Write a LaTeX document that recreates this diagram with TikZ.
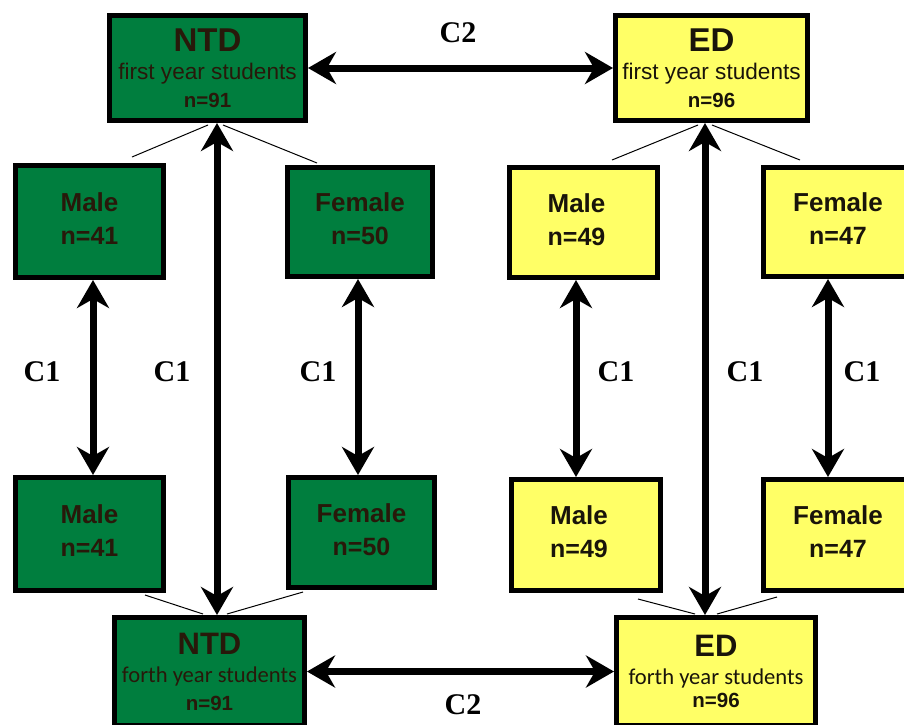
\documentclass[tikz,border=0pt]{standalone}
\usepackage{fontspec}
\setmainfont{Liberation Sans}
\newfontfamily\carlitof{Carlito}
\newfontfamily\timesf{Liberation Serif}
\usetikzlibrary{arrows.meta}
\definecolor{ntdgreen}{RGB}{0,126,62}
\definecolor{edyellow}{RGB}{255,255,102}
\definecolor{gtext}{RGB}{40,25,10}
\definecolor{ytext}{RGB}{25,20,10}
\tikzset{
  box/.style={draw=black, line width=5pt, align=center, inner sep=0pt},
  gbox/.style={box, fill=ntdgreen, text=gtext},
  ybox/.style={box, fill=edyellow, text=ytext},
  bigbox/.style={font=\fontsize{20}{28}\selectfont},
  smallbox/.style={font=\fontsize{25}{33}\selectfont\bfseries},
  dbl/.style={line width=7pt, {Stealth[length=28pt,width=32pt,inset=9pt]}-{Stealth[length=28pt,width=32pt,inset=9pt]}},
  thinline/.style={line width=1pt, draw=black},
  clab/.style={font=\timesf\bfseries\fontsize{30}{30}\selectfont, text=black, inner sep=0pt}
}
\newcommand{\ttl}[1]{{\fontsize{33}{28}\selectfont\bfseries #1}}
\newcommand{\ttlb}[1]{{\fontsize{31}{28}\selectfont\bfseries #1}}
\newcommand{\fys}{{\fontsize{22.6}{28}\selectfont first year students}}
\newcommand{\fos}{{\carlitof\fontsize{22.6}{28}\selectfont forth year students}}
\newcommand{\nn}[1]{{\fontsize{20.5}{28}\selectfont\bfseries #1}}
\newcommand{\sx}[1]{{\fontsize{26}{33}\selectfont\bfseries #1}}
\newcommand{\lowstrut}{\rule[-6pt]{0pt}{6pt}}
\begin{document}
\begin{tikzpicture}[x=1pt,y=-1pt]
\fill[white] (0,0) rectangle (904,724);
\useasboundingbox (0,0) rectangle (904,724);

% main boxes
\node[gbox, bigbox, minimum width=196pt, minimum height=105pt] (ntd1) at (207.5,68) {\ttl{NTD}\\ \fys\\ \nn{n=91}};
\node[ybox, bigbox, minimum width=192pt, minimum height=105pt] (ed1) at (711.5,68) {\ttl{ED}\\ \fys\\ \nn{n=96}};
\node[gbox, bigbox, minimum width=190pt, minimum height=108pt] (ntd2) at (209.5,671.5) {\ttlb{NTD}\\ \fos\\ \nn{n=91}};
\node[ybox, bigbox, minimum width=199pt, minimum height=108pt] (ed2) at (716,671.5) {\ttlb{ED}\\ \fos\\[-5pt] \nn{n=96}};

% gender boxes
\node[gbox, smallbox, minimum width=148pt, minimum height=112pt] (m1) at (89.5,221.5) {\sx{Male}\\ n=41\lowstrut};
\node[gbox, smallbox, minimum width=145pt, minimum height=109pt] (f1) at (360,222) {\sx{Female}\\ n=50\lowstrut};
\node[ybox, smallbox, minimum width=148pt, minimum height=110pt] (m2) at (583.5,222.5) {\sx{Male}\kern14pt\\ n=49\kern14pt\lowstrut};
\node[ybox, smallbox, minimum width=149pt, minimum height=109pt] (f2) at (838,222) {\sx{Female}\\ n=47\lowstrut};
\node[gbox, smallbox, minimum width=148pt, minimum height=113pt] (m3) at (89.5,534) {\sx{Male}\\ n=41\lowstrut};
\node[gbox, smallbox, minimum width=146pt, minimum height=110pt] (f3) at (361.5,532.5) {\sx{Female}\\ n=50\lowstrut};
\node[ybox, smallbox, minimum width=149pt, minimum height=111pt] (m4) at (586,535) {\sx{Male}\kern14pt\\ n=49\kern14pt\lowstrut};
\node[ybox, smallbox, minimum width=149pt, minimum height=111pt] (f4) at (838,535) {\sx{Female}\\ n=47\lowstrut};

% x positions of vertical arrows
\coordinate (vntd) at (217,0);
\coordinate (ved) at (705,0);
\coordinate (vm1) at (93,0);
\coordinate (vf1) at (358,0);
\coordinate (vm2) at (576,0);
\coordinate (vf2) at (828,0);

% C2 arrows
\draw[dbl] (ntd1.east) -- (ed1.west);
\draw[dbl] (ntd2.east) -- (ed2.west);
% long vertical arrows
\draw[dbl] (ntd1.south -| vntd) -- (ntd2.north -| vntd);
\draw[dbl] (ed1.south -| ved) -- (ed2.north -| ved);
% C1 arrows
\draw[dbl] (m1.south -| vm1) -- (m3.north -| vm1);
\draw[dbl] (f1.south -| vf1) -- (f3.north -| vf1);
\draw[dbl] (m2.south -| vm2) -- (m4.north -| vm2);
\draw[dbl] (f2.south -| vf2) -- (f4.north -| vf2);

% thin branch lines
\coordinate (a1) at (208,125); \coordinate (a2) at (132,157);
\coordinate (a3) at (223,125); \coordinate (a4) at (317,163);
\coordinate (b1) at (698,125); \coordinate (b2) at (612,160);
\coordinate (b3) at (712,125); \coordinate (b4) at (800,160);
\coordinate (c1) at (145,595); \coordinate (c2) at (203,614);
\coordinate (c3) at (303,592); \coordinate (c4) at (227,614);
\coordinate (d1) at (638,599); \coordinate (d2) at (695,614);
\coordinate (d3) at (777,597); \coordinate (d4) at (717,614);
\draw[thinline] (a1) -- (a2);
\draw[thinline] (a3) -- (a4);
\draw[thinline] (b1) -- (b2);
\draw[thinline] (b3) -- (b4);
\draw[thinline] (c1) -- (c2);
\draw[thinline] (c3) -- (c4);
\draw[thinline] (d1) -- (d2);
\draw[thinline] (d3) -- (d4);

% labels
\node[clab] (c2top) at (458,33) {C2};
\node[clab] (c2bot) at (463,705) {C2};
\node[clab] (l1) at (42,372) {C1};
\node[clab] (l2) at (172,372) {C1};
\node[clab] (l3) at (318,372) {C1};
\node[clab] (l4) at (616,372) {C1};
\node[clab] (l5) at (745,372) {C1};
\node[clab] (l6) at (862,372) {C1};
\end{tikzpicture}
\end{document}
